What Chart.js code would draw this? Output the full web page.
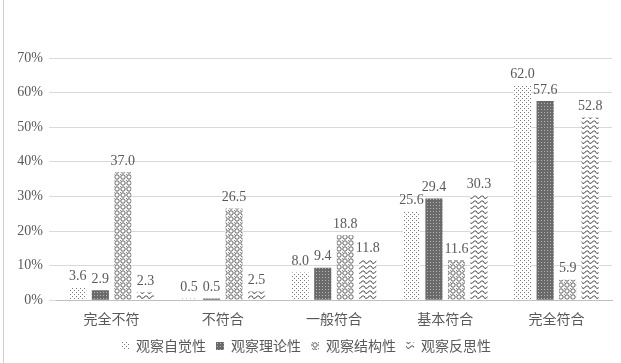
<!DOCTYPE html>
<html lang="zh">
<head>
    <meta charset="UTF-8">
    <title>观察能力分布</title>
    <script src="https://cdn.jsdelivr.net/npm/chart.js"></script>
    <style>
        html, body {
            margin: 0;
            padding: 0;
            background: #fff;
        }
        #wrap {
            position: relative;
            width: 621px;
            height: 363px;
        }
        #wrap:before {
            content: "";
            position: absolute;
            left: 3px;
            top: 0;
            bottom: 0;
            border-left: 1px solid #cfcfcf;
        }
    </style>
</head>
<body>
    <div id="wrap">
        <canvas id="obsChart" width="621" height="363"></canvas>
    </div>

    <script>
        // categories and series (percent)
        const categories = ['完全不符', '不符合', '一般符合', '基本符合', '完全符合'];
        const seriesNames = ['观察自觉性', '观察理论性', '观察结构性', '观察反思性'];
        const selfAware = [3.6, 0.5, 8.0, 25.6, 62.0];
        const theory = [2.9, 0.5, 9.4, 29.4, 57.6];
        const structure = [37.0, 26.5, 18.8, 11.6, 5.9];
        const reflect = [2.3, 2.5, 11.8, 30.3, 52.8];
        const yTicks = [0, 10, 20, 30, 40, 50, 60, 70];

        const canvas = document.getElementById('obsChart');
        const ctx = canvas.getContext('2d');

        function makeTile(w, h, draw) {
            const c = document.createElement('canvas');
            c.width = w;
            c.height = h;
            const t = c.getContext('2d');
            t.fillStyle = '#fff';
            t.fillRect(0, 0, w, h);
            draw(t);
            return ctx.createPattern(c, 'repeat');
        }

        // sparse dots
        const dotPattern = makeTile(4, 4, t => {
            t.fillStyle = '#7a7a7a';
            t.fillRect(0, 0, 1, 1);
            t.fillRect(2, 2, 1, 1);
        });
        // dark mesh
        const meshPattern = makeTile(3, 3, t => {
            t.fillStyle = '#6a6a6a';
            t.fillRect(0, 0, 3, 3);
            t.fillStyle = '#b4b4b4';
            t.fillRect(1, 1, 1, 1);
        });
        // small circles
        const circlePattern = makeTile(6, 6, t => {
            t.strokeStyle = '#5e5e5e';
            t.lineWidth = 1;
            t.beginPath();
            t.arc(3, 3, 2.2, 0, Math.PI * 2);
            t.stroke();
            t.fillStyle = '#888';
            t.fillRect(0, 0, 1, 1);
        });
        // zigzag waves
        const wavePattern = makeTile(7, 5, t => {
            t.strokeStyle = '#4a4a4a';
            t.lineWidth = 1;
            t.beginPath();
            t.moveTo(0, 1);
            t.quadraticCurveTo(1.75, 5, 3.5, 3);
            t.quadraticCurveTo(5.25, 0, 7, 1);
            t.stroke();
        });

        const patterns = [dotPattern, meshPattern, circlePattern, wavePattern];
        const values = [selfAware, theory, structure, reflect];

        // value labels above each bar
        const barLabels = {
            id: 'barLabels',
            afterDatasetsDraw(chart) {
                const c = chart.ctx;
                c.save();
                c.font = '14px "Liberation Serif", "DejaVu Serif", serif';
                c.fillStyle = '#595959';
                c.textAlign = 'center';
                c.textBaseline = 'bottom';
                chart.data.datasets.forEach((ds, i) => {
                    chart.getDatasetMeta(i).data.forEach((bar, j) => {
                        c.fillText(ds.data[j].toFixed(1), bar.x, bar.y - 4);
                    });
                });
                c.restore();
            }
        };

        new Chart(ctx, {
            type: 'bar',
            data: {
                labels: categories,
                datasets: seriesNames.map((name, i) => ({
                    label: name,
                    data: values[i],
                    backgroundColor: patterns[i],
                    borderWidth: 0,
                    categoryPercentage: 0.81,
                    barPercentage: 0.76
                }))
            },
            options: {
                responsive: false,
                animation: false,
                layout: {
                    padding: { left: 0, right: 9, top: 58, bottom: 0 }
                },
                plugins: {
                    tooltip: { enabled: false },
                    legend: {
                        position: 'bottom',
                        labels: {
                            boxWidth: 8,
                            boxHeight: 8,
                            padding: 10,
                            color: '#595959',
                            font: { size: 14, family: '"Noto Sans CJK SC", sans-serif' }
                        }
                    }
                },
                scales: {
                    x: {
                        grid: { display: false },
                        border: { color: '#bfbfbf' },
                        ticks: {
                            color: '#595959',
                            padding: 2,
                            font: { size: 14, family: '"Noto Sans CJK SC", sans-serif' }
                        }
                    },
                    y: {
                        min: 0,
                        max: 70,
                        afterFit(scale) { scale.width = 56; },
                        afterBuildTicks(scale) {
                            scale.ticks = yTicks.map(v => ({ value: v }));
                        },
                        grid: {
                            color: '#d9d9d9',
                            tickLength: 7,
                            tickColor: '#d9d9d9'
                        },
                        border: { display: false },
                        ticks: {
                            color: '#595959',
                            padding: 6,
                            font: { size: 14, family: '"Liberation Serif", serif' },
                            callback: v => v + '%'
                        }
                    }
                }
            },
            plugins: [barLabels]
        });
    </script>
</body>
</html>
